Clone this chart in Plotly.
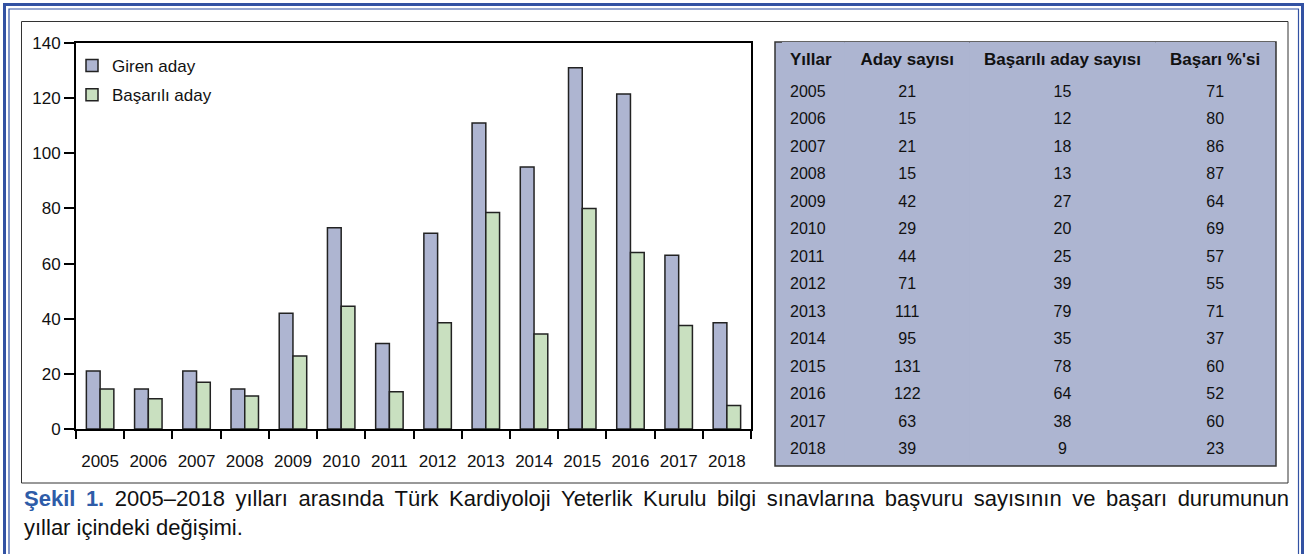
import plotly.graph_objects as go

# ---------------- data ----------------
years = ["2005", "2006", "2007", "2008", "2009", "2010", "2011",
         "2012", "2013", "2014", "2015", "2016", "2017", "2018"]
# values as drawn in the bar chart
giren_aday = [21, 14.5, 21, 14.5, 42, 73, 31, 71, 111, 95, 131, 121.5, 63, 38.5]
basarili_aday = [14.5, 11, 17, 12, 26.5, 44.5, 13.5, 38.5, 78.5, 34.5, 80, 64, 37.5, 8.5]

# values of the table
table_header = ["Yıllar", "Aday sayısı", "Başarılı aday sayısı", "Başarı %'si"]
tbl_aday = [21, 15, 21, 15, 42, 29, 44, 71, 111, 95, 131, 122, 63, 39]
tbl_basarili = [15, 12, 18, 13, 27, 20, 25, 39, 79, 35, 78, 64, 38, 9]
tbl_yuzde = [71, 80, 86, 87, 64, 69, 57, 55, 71, 37, 60, 52, 60, 23]

caption_bold = "Şekil 1."
caption_line1 = ("2005–2018 yılları arasında Türk Kardiyoloji Yeterlik Kurulu bilgi "
                 "sınavlarına başvuru sayısının ve başarı durumunun")
caption_line2 = "yıllar içindeki değişimi."

# ---------------- geometry helpers ----------------
W, H = 1305, 554
def fx(x):
    return x / W
def fy(y):
    return 1 - y / H

BLUE_BAR = "#aeb5d1"
GREEN_BAR = "#c9e0c0"
TABLE_BG = "#adb5d1"
FRAME_BLUE = "#3352a3"
FONT = "Liberation Sans, Arial, sans-serif"

fig = go.Figure()

fig.add_trace(go.Bar(
    x=years, y=giren_aday, name="Giren aday",
    marker=dict(color=BLUE_BAR, line=dict(color="#222222", width=1.5)),
    legendgroup="a",
))
fig.add_trace(go.Bar(
    x=years, y=basarili_aday, name="Başarılı aday",
    marker=dict(color=GREEN_BAR, line=dict(color="#222222", width=1.5)),
    legendgroup="b",
))

fig.add_trace(go.Table(
    domain=dict(x=[fx(782), fx(1276)], y=[fy(466), fy(42)]),
    columnwidth=[63, 125, 186, 120],
    header=dict(
        values=["<b>" + h + "</b>" for h in table_header],
        fill=dict(color=TABLE_BG),
        line=dict(color=TABLE_BG, width=0),
        align=["left", "center", "center", "center"],
        font=dict(family=FONT, size=17, color="#111111"),
        height=30,
    ),
    cells=dict(
        values=[years, tbl_aday, tbl_basarili, tbl_yuzde],
        fill=dict(color=TABLE_BG),
        line=dict(color=TABLE_BG, width=0),
        align=["left", "center", "center", "center"],
        font=dict(family=FONT, size=16, color="#111111"),
        height=27.46,
    ),
))

shapes = [
    # outer blue double frame
    dict(type="rect", xref="paper", yref="paper",
         x0=fx(4.5), x1=fx(1302.5), y0=fy(600), y1=fy(4.5),
         line=dict(color=FRAME_BLUE, width=3), fillcolor="rgba(0,0,0,0)", layer="above"),
    dict(type="rect", xref="paper", yref="paper",
         x0=fx(9), x1=fx(1298.5), y0=fy(600), y1=fy(9),
         line=dict(color=FRAME_BLUE, width=1.2), fillcolor="rgba(0,0,0,0)", layer="above"),
    # inner grey frame
    dict(type="rect", xref="paper", yref="paper",
         x0=fx(21.5), x1=fx(1288), y0=fy(483), y1=fy(21.5),
         line=dict(color="#333333", width=1), fillcolor="rgba(0,0,0,0)", layer="below"),
    # table border
    dict(type="rect", xref="paper", yref="paper",
         x0=fx(775), x1=fx(1276), y0=fy(466), y1=fy(42),
         line=dict(color="#333333", width=1.5), fillcolor=TABLE_BG, layer="below"),
]

# justified first caption line: widen the inter-word spaces a little
just_space = " \u2009"
line1_text = ("<span style='color:#2e5ca8'><b>" + caption_bold.replace(" ", just_space)
              + "</b></span>" + just_space + caption_line1.replace(" ", just_space))

annotations = [
    dict(xref="paper", yref="paper", x=fx(22), y=fy(498), xanchor="left", yanchor="middle",
         showarrow=False, align="left", text=line1_text,
         font=dict(family=FONT, size=22, color="#111111")),
    dict(xref="paper", yref="paper", x=fx(22), y=fy(527), xanchor="left", yanchor="middle",
         showarrow=False, align="left", text=caption_line2,
         font=dict(family=FONT, size=22, color="#111111")),
]

fig.update_layout(
    width=W, height=H,
    margin=dict(l=0, r=0, t=0, b=0),
    paper_bgcolor="white", plot_bgcolor="white",
    font=dict(family=FONT, size=17, color="#111111"),
    barmode="group", bargap=0.43, bargroupgap=0,
    showlegend=True,
    legend=dict(x=fx(72), y=fy(48), xanchor="left", yanchor="top",
                bgcolor="rgba(0,0,0,0)", font=dict(family=FONT, size=17),
                tracegroupgap=4, itemclick=False),
    xaxis=dict(domain=[fx(76), fx(751)], type="category",
               showline=True, linecolor="black", linewidth=2, mirror=True,
               ticks="outside", tickson="boundaries", ticklen=8, tickwidth=2,
               tickcolor="black", showgrid=False, ticklabelstandoff=16,
               automargin=False, tickfont=dict(size=17)),
    yaxis=dict(domain=[fy(429), fy(43)], range=[0, 140], dtick=20,
               showline=True, linecolor="black", linewidth=2, mirror=True,
               ticks="outside", ticklen=10, tickwidth=2, tickcolor="black",
               showgrid=False, zeroline=False, automargin=False,
               tickfont=dict(size=17)),
    shapes=shapes,
    annotations=annotations,
)

fig.write_html("out.html", config={"displayModeBar": False},
               post_script="document.body.style.margin='0';")
